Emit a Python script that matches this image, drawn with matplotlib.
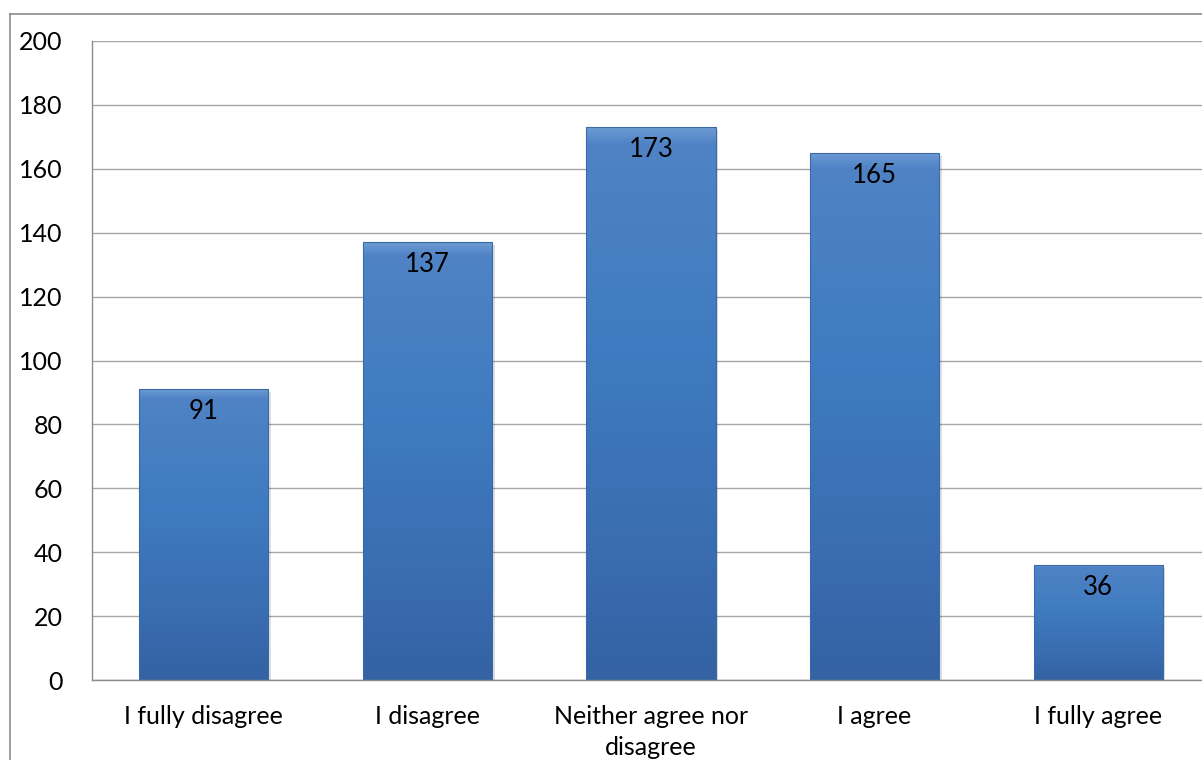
import matplotlib
matplotlib.use("Agg")
import matplotlib.pyplot as plt
import numpy as np
from matplotlib.patches import Rectangle
from matplotlib.colors import LinearSegmentedColormap
from matplotlib.lines import Line2D

categories = ["I fully disagree", "I disagree", "Neither agree nor\ndisagree", "I agree", "I fully agree"]
counts = [91, 137, 173, 165, 36]
y_ticks = [0, 20, 40, 60, 80, 100, 120, 140, 160, 180, 200]

plt.rcParams['font.family'] = ['Lato', 'DejaVu Sans']

W, H = 1202, 760
fig = plt.figure(figsize=(W / 100, H / 100), dpi=100)

# outer chart frame (runs off the right and bottom edges)
fig.add_artist(Line2D([10 / W, 10 / W], [0, 1 - 14 / H], transform=fig.transFigure,
                      color="#8c8c8c", lw=1.2))
fig.add_artist(Line2D([10 / W, 1.0], [1 - 14 / H, 1 - 14 / H], transform=fig.transFigure,
                      color="#8c8c8c", lw=1.2))

left, right = 92, 1210
bottom, top = 680, 41
ax = fig.add_axes([left / W, 1 - bottom / H, (right - left) / W, (bottom - top) / H])
ax.set_xlim(-0.5, len(categories) - 0.5)
ax.set_ylim(0, 200)

for s in ["top", "right"]:
    ax.spines[s].set_visible(False)
for s in ["left", "bottom"]:
    ax.spines[s].set_color("#8c8c8c")
    ax.spines[s].set_linewidth(1.0)

ax.set_yticks(y_ticks)
ax.yaxis.grid(True, color="#a6a6a6", lw=1.0)
ax.set_axisbelow(True)
ax.tick_params(axis="both", length=0, colors="black")
ax.tick_params(axis="y", pad=21, labelsize=18)
ax.set_xticks(range(len(categories)))
ax.set_xticklabels(categories, linespacing=1.42)
ax.tick_params(axis="x", pad=18, labelsize=18)

# gradient fill used for every bar
cmap = LinearSegmentedColormap.from_list(
    "barfill", [(0.0, "#3462a3"), (0.25, "#3a6db2"), (0.6, "#3f7bc0"), (0.97, "#4f83c5"), (1.0, "#6c9ad3")])
grad = np.linspace(0, 1, 256).reshape(-1, 1)

bar_w = 0.577
bars = ax.bar(range(len(categories)), counts, width=bar_w, color="none",
              edgecolor="#3a6aa8", linewidth=0.8, zorder=3)
for rect, val in zip(bars, counts):
    x0, w = rect.get_x(), rect.get_width()
    # soft shadow to the right/bottom
    sh = Rectangle((x0 + 0.012, -1.2), w, val + 0.2, facecolor="#000000", alpha=0.12,
                   edgecolor="none", zorder=2)
    ax.add_patch(sh)
    im = ax.imshow(grad, cmap=cmap, origin="lower", aspect="auto",
                   extent=[x0, x0 + w, 0, val], zorder=2.5)
    im.set_clip_path(rect)
    ax.text(rect.get_x() + w / 2, val - 7.0, str(val), ha="center", va="center",
            fontsize=18.5, color="black", zorder=4)

fig.savefig("out.png", dpi=100)
